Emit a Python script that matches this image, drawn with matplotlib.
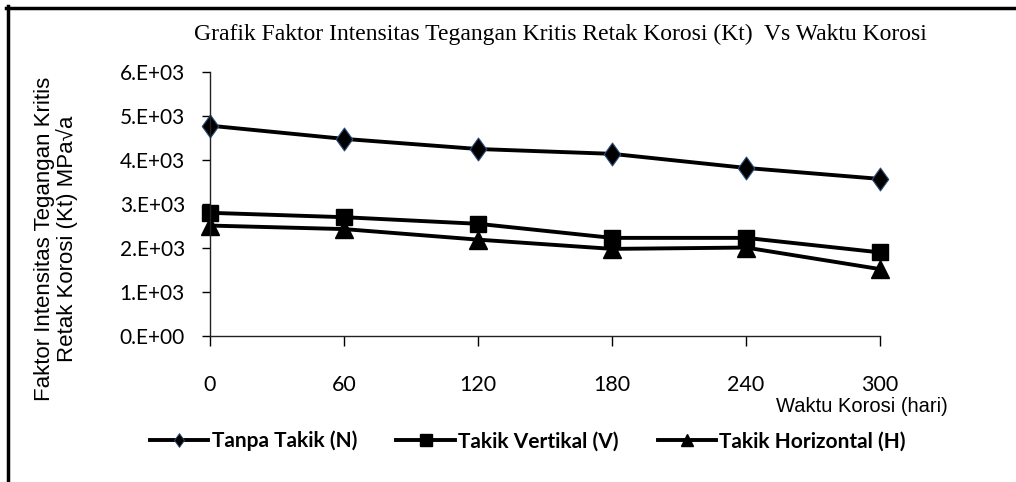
import matplotlib
matplotlib.use("Agg")
import matplotlib.pyplot as plt
from matplotlib.path import Path
from matplotlib.lines import Line2D

# ---- data ----
waktu = [0, 60, 120, 180, 240, 300]
tanpa_takik = [4780, 4480, 4250, 4140, 3820, 3570]
takik_vertikal = [2800, 2700, 2550, 2230, 2230, 1900]
takik_horizontal = [2510, 2430, 2190, 1980, 2010, 1520]
series_labels = ["Tanpa Takik (N)", "Takik Vertikal (V)", "Takik Horizontal (H)"]
y_ticks = [0, 1000, 2000, 3000, 4000, 5000, 6000]
y_tick_labels = ["0.E+00", "1.E+03", "2.E+03", "3.E+03", "4.E+03", "5.E+03", "6.E+03"]
x_tick_labels = ["0", "60", "120", "180", "240", "300"]
title = "Grafik Faktor Intensitas Tegangan Kritis Retak Korosi (Kt)  Vs Waktu Korosi"
ylabel = "Faktor Intensitas Tegangan Kritis\nRetak Korosi (Kt) MPa\u221Aa"
xlabel = "Waktu Korosi (hari)"

W, H = 1016, 482
fig = plt.figure(figsize=(W / 100, H / 100), dpi=100)

ax = fig.add_axes([210 / W, 1 - 336 / H, (880 - 210) / W, (336 - 72) / H])

diamond = Path([(0, 1), (0.72, 0), (0, -1), (-0.72, 0), (0, 1)],
               [Path.MOVETO, Path.LINETO, Path.LINETO, Path.LINETO, Path.CLOSEPOLY])

lw = 2.8
ax.plot(waktu, tanpa_takik, color="black", lw=lw, marker=diamond, ms=16.5,
        mfc="black", mec="#2b4f7e", mew=0.8, label=series_labels[0], clip_on=False)
ax.plot(waktu, takik_vertikal, color="black", lw=lw, marker="s", ms=12,
        mfc="black", mec="black", label=series_labels[1], clip_on=False)
ax.plot(waktu, takik_horizontal, color="black", lw=lw, marker="^", ms=12.5,
        mfc="black", mec="black", label=series_labels[2], clip_on=False)

ax.set_xlim(0, 300)
ax.set_ylim(0, 6000)
ax.set_xticks(waktu)
ax.set_xticklabels(x_tick_labels, fontfamily="Lato", fontsize=15.5)
ax.set_yticks(y_ticks)
ax.set_yticklabels(y_tick_labels, fontfamily="Lato", fontsize=15)
ax.tick_params(axis="x", direction="out", length=7, width=1, pad=21, colors="black")
ax.tick_params(axis="y", direction="out", length=6, width=1, pad=12, colors="black")
for s in ["top", "right"]:
    ax.spines[s].set_visible(False)
for s in ["left", "bottom"]:
    ax.spines[s].set_linewidth(1)
    ax.spines[s].set_color("#222222")

fig.text(560 / W, 1 - 34 / H, title, ha="center", va="center",
         fontfamily="Liberation Serif", fontsize=17)
fig.text(56 / W, 1 - 239 / H, ylabel, ha="center", va="center", rotation=90,
         fontfamily="Liberation Sans", fontsize=16, linespacing=1.05)
fig.text(862 / W, 1 - 407 / H, xlabel, ha="center", va="center",
         fontfamily="Liberation Sans", fontsize=14.5)

# legend with small markers
handles = [
    Line2D([], [], color="black", lw=2.8, marker=diamond, ms=10, mfc="black", mec="#2b4f7e", mew=0.6),
    Line2D([], [], color="black", lw=2.8, marker="s", ms=9, mfc="black", mec="black"),
    Line2D([], [], color="black", lw=2.8, marker="^", ms=9, mfc="black", mec="black"),
]
fig.legend(handles, series_labels, loc="center", bbox_to_anchor=(528 / W, 1 - 441 / H),
           ncol=3, frameon=False, prop={"family": "Lato", "size": 15, "weight": "bold"},
           handlelength=2.8, handletextpad=0.15, columnspacing=1.9)

# outer frame (top and left visible)
fig.add_artist(Line2D([7.5 / W, 7.5 / W], [0, 1 - 6 / H], transform=fig.transFigure,
                      color="black", lw=2.5))
fig.add_artist(Line2D([6 / W, 1], [1 - 7.5 / H, 1 - 7.5 / H], transform=fig.transFigure,
                      color="black", lw=2.5))

fig.savefig("out.png", dpi=100)
